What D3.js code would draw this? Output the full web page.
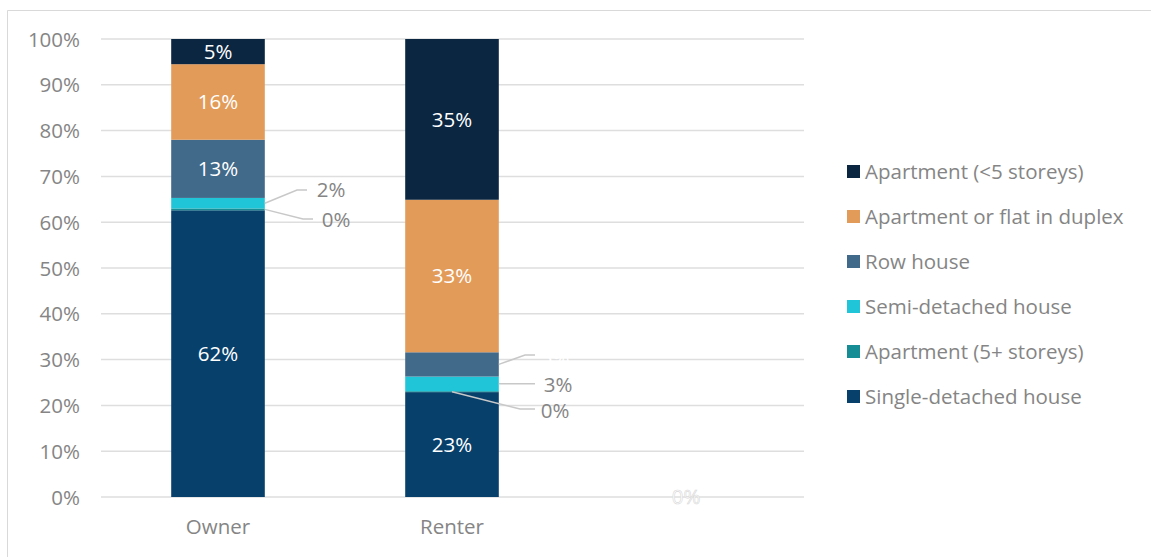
<!DOCTYPE html>
<html><head><meta charset="utf-8">
<script src="https://cdn.jsdelivr.net/npm/d3@7"></script>
<style>body{margin:0;background:#fff}svg{display:block;font-family:"Open Sans",Lato,sans-serif}</style>
</head><body><svg id="c" width="1151" height="557"></svg>
<script>
const categories = ["Owner", "Renter", ""];
const seriesNames = ["Single-detached house", "Apartment (5+ storeys)", "Semi-detached house", "Row house", "Apartment or flat in duplex", "Apartment (<5 storeys)"];
const seriesColors = ["#08406c", "#168d95", "#20c6d8", "#41698a", "#e39b59", "#0b2641"];
const ownerValues = [62.6, 0.4, 2.3, 12.7, 16.5, 5.5];
const renterValues = [22.9, 0.2, 3.2, 5.3, 33.3, 35.1];
const thirdValues = [0, 0, 0, 0, 0, 0];
const valueLabels = [
  ["62%", "0%", "2%", "13%", "16%", "5%"],
  ["23%", "0%", "3%", "5%", "33%", "35%"],
  ["0%", "", "", "", "", ""]
];
const yTicks = [0, 10, 20, 30, 40, 50, 60, 70, 80, 90, 100];

const FS = "20.5px";
const svg = d3.select("#c");
const gray = "#858585";
svg.append("path").attr("d", "M7.5,557V10.5H1151").attr("fill", "none").attr("stroke", "#d9d9d9").attr("stroke-width", 1);

const x = d3.scaleBand().domain(categories.map((c, i) => i)).range([101, 803]).paddingInner(0.6).paddingOuter(0.3);
const y = d3.scaleLinear().domain([0, 100]).range([497, 39]);

// grid
svg.append("g").selectAll("line").data(yTicks).join("line")
  .attr("x1", 101).attr("x2", 804).attr("y1", d => y(d)).attr("y2", d => y(d))
  .attr("stroke", "#dedede").attr("stroke-width", 1.5);

// y axis labels
const yAxis = d3.axisLeft(y).tickValues(yTicks).tickFormat(d => d + "%").tickSize(0).tickPadding(0);
const ya = svg.append("g").attr("transform", "translate(80,0)").call(yAxis);
ya.select(".domain").remove();
ya.selectAll("text").attr("fill", gray).style("font-size", FS).style("font-family", "Open Sans").attr("dy", "0.35em");

// x axis labels
const xAxis = d3.axisBottom(x).tickFormat(i => categories[i]).tickSize(0).tickPadding(0);
const xa = svg.append("g").attr("transform", "translate(0,519)").call(xAxis);
xa.select(".domain").remove();
xa.selectAll("text").attr("fill", gray).style("font-size", FS).style("font-family", "Open Sans").attr("dy", "0.71em");

const allVals = [ownerValues, renterValues, thirdValues];
const stacks = allVals.map(vals => { let c = 0; return vals.map(v => { const s = [c, c + v]; c += v; return s; }); });

allVals.forEach((vals, ci) => {
  const g = svg.append("g");
  g.selectAll("rect").data(stacks[ci]).join("rect")
    .attr("x", x(ci)).attr("width", x.bandwidth())
    .attr("y", d => y(d[1])).attr("height", d => y(d[0]) - y(d[1]))
    .attr("fill", (d, i) => seriesColors[i]);
});

// inside labels
const inside = [[0, 0], [0, 3], [0, 4], [0, 5], [1, 0], [1, 4], [1, 5]];
inside.forEach(([ci, si]) => {
  const s = stacks[ci][si];
  svg.append("text").attr("x", x(ci) + x.bandwidth() / 2).attr("y", y((s[0] + s[1]) / 2))
    .attr("dy", "0.35em").attr("text-anchor", "middle").attr("fill", "#fff")
    .style("font-size", FS).text(valueLabels[ci][si]);
});

// outside labels with leaders
function leader(ci, si, pts, lx, ly, color) {
  svg.append("path").attr("d", d3.line()(pts)).attr("fill", "none").attr("stroke", "#c8c8c8").attr("stroke-width", 1.5);
  svg.append("text").attr("x", lx).attr("y", ly).attr("dy", "0.35em").attr("text-anchor", "middle")
    .attr("fill", color || gray).style("font-size", FS).text(valueLabels[ci][si]);
}
const oR = x(0) + x.bandwidth(), rR = x(1) + x.bandwidth();
const mid = (ci, si) => y((stacks[ci][si][0] + stacks[ci][si][1]) / 2);
leader(0, 2, [[oR, mid(0, 2)], [297, 190], [307, 190]], 331, 190);
leader(0, 1, [[oR, mid(0, 1)], [303, 219], [313, 219]], 336, 220);
leader(1, 3, [[rR, mid(1, 3)], [525, 355], [535, 355]], 555, 358, "#fff");
leader(1, 2, [[rR, mid(1, 2)], [535, mid(1, 2)]], 558, 385);
leader(1, 1, [[x(1) + x.bandwidth() / 2, mid(1, 1)], [520, 409], [535, 409]], 555, 411);

// ghost 0% label for empty category
svg.append("text").attr("x", x(2) + x.bandwidth() / 2).attr("y", y(0)).attr("dy", "0.35em")
  .attr("text-anchor", "middle").attr("fill", "#fff").attr("stroke", "#d8d8d8").attr("stroke-width", 0.6)
  .style("font-size", FS).text(valueLabels[2][0]);

// legend
const leg = svg.append("g");
const order = [5, 4, 3, 2, 1, 0];
order.forEach((si, k) => {
  const yy = 172 + k * 45;
  leg.append("rect").attr("x", 847).attr("y", yy - 7).attr("width", 13).attr("height", 13).attr("fill", seriesColors[si]);
  leg.append("text").attr("x", 865).attr("y", yy).attr("dy", "0.35em").attr("fill", gray)
    .style("font-size", FS).text(seriesNames[si]);
});
</script></body></html>
